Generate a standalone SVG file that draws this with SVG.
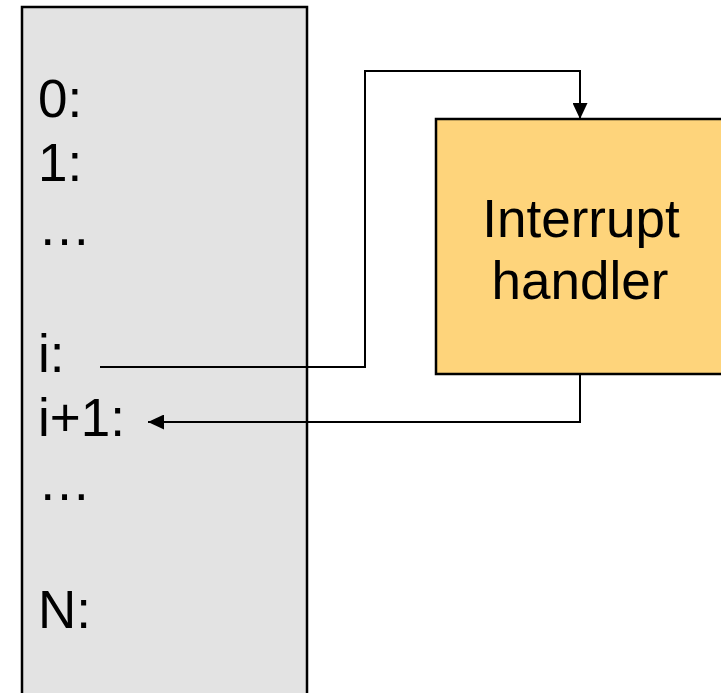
<svg xmlns="http://www.w3.org/2000/svg" width="721" height="693" viewBox="0 0 721 693">
<style>
text{font-family:"Liberation Sans",Arial,sans-serif;font-size:53px;fill:#000}
.c{fill:none;stroke:#000;stroke-width:2}
</style>
<defs>
<marker id="ah" markerWidth="16" markerHeight="15" refX="16" refY="7.5" orient="auto" markerUnits="userSpaceOnUse"><path d="M0,0 L16,7.5 L0,15 Z" fill="#000"/></marker>
</defs>
<rect width="721" height="693" fill="#fff"/>
<g id="memory">
<rect x="22" y="7" width="285" height="700" fill="#e3e3e3" stroke="#000" stroke-width="2.5"/>
<text x="38" y="117">0:</text>
<text x="38" y="181">1:</text>
<text x="38" y="245">…</text>
<text x="38" y="372">i:</text>
<text x="38" y="436">i+1:</text>
<text x="38" y="500">…</text>
<text x="38" y="628">N:</text>
</g>
<g id="handler">
<rect x="436" y="119" width="300" height="255" fill="#fed47b" stroke="#000" stroke-width="2.5"/>
<text x="581" y="237" text-anchor="middle">Interrupt</text>
<text x="580" y="299" text-anchor="middle">handler</text>
</g>
<g id="connectors">
<path class="c" d="M100,367 H365 V71 H580 V119" marker-end="url(#ah)"/>
<path class="c" d="M580,374 V422 H148" marker-end="url(#ah)"/>
</g>
</svg>
